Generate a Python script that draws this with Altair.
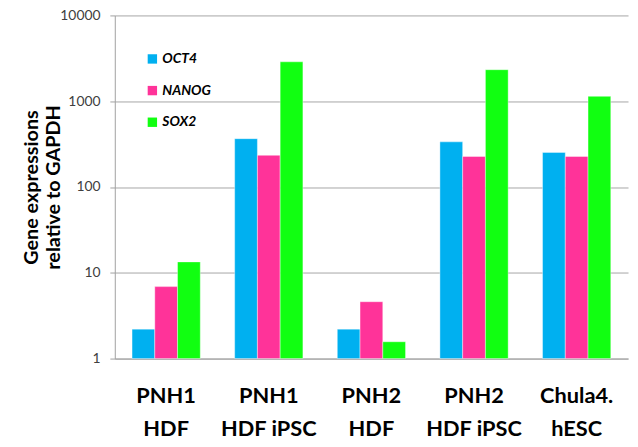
import altair as alt
import pandas as pd

groups = ["PNH1|HDF", "PNH1|HDF iPSC", "PNH2|HDF", "PNH2|HDF iPSC", "Chula4.|hESC"]
genes = ["OCT4", "NANOG", "SOX2"]
oct4 = [2.2, 366, 2.2, 336, 253]
nanog = [6.9, 234, 4.6, 227, 227]
sox2 = [13.4, 2880, 1.57, 2330, 1140]
colors = ["#00B0F0", "#FF3399", "#11FF11"]
y_ticks = [1, 10, 100, 1000, 10000]

rows = []
for i, g in enumerate(groups):
    for gene, vals in zip(genes, [oct4, nanog, sox2]):
        rows.append({"group": g, "gene": gene, "value": vals[i]})
df = pd.DataFrame(rows)

font = "Lato"

chart = alt.Chart(df).mark_bar(strokeWidth=0.8, strokeOpacity=0.5, stroke="white").encode(
    x=alt.X("group:N", sort=groups,
            scale=alt.Scale(paddingInner=0.335, paddingOuter=0.168),
            axis=alt.Axis(title=None, labelAngle=0, ticks=False,
                          labelExpr="split(datum.label, '|')",
                          labelFont=font, labelFontSize=22, labelFontWeight="bold",
                          labelColor="black", labelLineHeight=34, labelPadding=27,
                          domainColor="#A0A0A0", labelBaseline="top")),
    xOffset=alt.XOffset("gene:N", sort=genes, scale=alt.Scale(paddingInner=0, paddingOuter=0)),
    y=alt.Y("value:Q", scale=alt.Scale(type="log", domain=[1, 10000]),
            axis=alt.Axis(title=["Gene expressions", "relative to GAPDH"],
                          values=y_ticks, format="d", ticks=True, tickSize=5,
                          tickColor="#A0A0A0",
                          labelFont=font, labelFontSize=14, labelColor="#404040",
                          labelPadding=10, gridColor="#A6A6A6", domainColor="#A0A0A0",
                          titleFont=font, titleFontSize=20, titleFontWeight="bold",
                          titleColor="black", titlePadding=-4, titleLineHeight=23)),
    y2=alt.datum(1),
    color=alt.Color("gene:N", sort=genes,
                    scale=alt.Scale(domain=genes, range=colors),
                    legend=alt.Legend(title=None, orient="none", legendX=31, legendY=37,
                                      symbolType="square", symbolSize=90,
                                      symbolStrokeWidth=0, labelFont=font,
                                      labelFontSize=14, labelFontWeight="bold",
                                      labelFontStyle="italic", labelColor="black",
                                      rowPadding=18, labelOffset=3)),
).properties(
    width=519, height=347,
    autosize=alt.AutoSizeParams(type="none"),
    padding={"left": 108, "top": 5, "right": 2, "bottom": 95},
).configure_view(stroke=None).configure_axis(gridWidth=1)

chart.save("out.html", embed_options={"renderer": "svg", "actions": False})
